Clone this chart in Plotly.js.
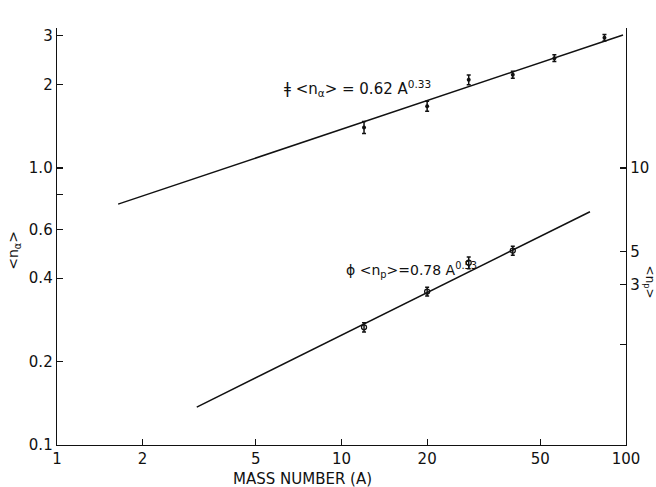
<!DOCTYPE html>
<html>
<head>
<meta charset="utf-8">
<script src="https://cdn.plot.ly/plotly-3.0.1.min.js"></script>
<style>html,body{margin:0;padding:0;background:#fff;}#chart{width:656px;height:487px;}</style>
</head>
<body>
<div id="chart"></div>
<script>
// Data
const massAlpha = [12, 20, 28, 40, 56, 84];
const nAlpha = [1.40, 1.67, 2.08, 2.17, 2.49, 2.95];
const errAlpha = [0.07, 0.07, 0.085, 0.065, 0.07, 0.08];

const massP = [12, 20, 28, 40];
const nP = [2.66, 3.58, 4.55, 5.03];
const errP = [0.10, 0.13, 0.22, 0.19];

// fitted lines (end points)
const fitAlphaA = [1.64, 97.6];
const fitAlphaN = [0.74, 3.02];
const fitPA = [3.10, 74.7];
const fitPN = [1.37, 6.95];

// tick labels
const xTickVals = [1, 2, 5, 10, 20, 50, 100];
const xTickText = ["1", "2", "5", "10", "20", "50", "100"];
const yTickVals = [0.1, 0.2, 0.4, 0.6, 0.8, 1.0, 2, 3];
const yTickText = ["0.1", "0.2", "0.4", "0.6", "", "1.0", "2", "3"];
const y2TickVals = [10, 5, 3.8, 2.3];
const y2TickText = ["10", "5", "3", ""];

const FONT = "DejaVu Sans, sans-serif";

const traces = [
  {x: fitAlphaA, y: fitAlphaN, mode: "lines", line: {color: "#111", width: 1.5}, yaxis: "y", hoverinfo: "skip"},
  {x: fitPA, y: fitPN, mode: "lines", line: {color: "#111", width: 1.5}, yaxis: "y2", hoverinfo: "skip"},
  {x: massAlpha, y: nAlpha, mode: "markers", yaxis: "y",
   marker: {color: "#111", size: 4, symbol: "circle"},
   error_y: {type: "data", array: errAlpha, visible: true, color: "#111", thickness: 1.5, width: 2}},
  {x: massP, y: nP, mode: "markers", yaxis: "y2",
   marker: {color: "#111", size: 5, symbol: "circle-open", line: {width: 1.3}},
   error_y: {type: "data", array: errP, visible: true, color: "#111", thickness: 1.5, width: 2}}
];

const axisCommon = {
  showgrid: false, zeroline: false, showline: true, linecolor: "#111", linewidth: 1.3,
  ticks: "inside", ticklen: 6, tickcolor: "#111", tickwidth: 1.2,
  tickfont: {family: FONT, size: 15, color: "#111"}
};

const layout = {
  width: 656, height: 487,
  margin: {l: 57, r: 30, t: 28, b: 42},
  paper_bgcolor: "#fff", plot_bgcolor: "#fff",
  showlegend: false,
  xaxis: Object.assign({}, axisCommon, {
    type: "log", range: [0, 2], tickmode: "array", tickvals: xTickVals, ticktext: xTickText,
    ticklabelstandoff: 0
  }),
  yaxis: Object.assign({}, axisCommon, {
    type: "log", range: [-1, 0.505], tickmode: "array", tickvals: yTickVals, ticktext: yTickText,
    ticklabelstandoff: 0
  }),
  yaxis2: Object.assign({}, axisCommon, {
    type: "log", range: [0, 1.505], overlaying: "y", side: "right", anchor: "x",
    tickmode: "array", tickvals: y2TickVals, ticktext: y2TickText, ticklabelstandoff: 0
  }),
  annotations: [
    {xref: "paper", yref: "paper", x: 0.396, y: 0.856, xanchor: "left", yanchor: "middle", showarrow: false,
     text: "ǂ &lt;n<sub>α</sub>&gt; = 0.62 A<sup>0.33</sup>", font: {family: FONT, size: 15, color: "#111"}},
    {xref: "paper", yref: "paper", x: 0.505, y: 0.42, xanchor: "left", yanchor: "middle", showarrow: false,
     text: "ɸ &lt;n<sub>p</sub>&gt;=0.78 A<sup>0.53</sup>", font: {family: FONT, size: 14, color: "#111"}},
    {xref: "paper", yref: "paper", x: 0.432, y: -0.082, xanchor: "center", yanchor: "middle", showarrow: false,
     text: "MASS NUMBER (A)", font: {family: FONT, size: 15, color: "#111"}},
    {xref: "paper", yref: "paper", x: -0.0756, y: 0.468, xanchor: "center", yanchor: "middle", showarrow: false,
     textangle: -90, text: "&lt;n<sub>α</sub>&gt;", font: {family: FONT, size: 14, color: "#111"}},
    {xref: "paper", yref: "paper", x: 1.041, y: 0.391, xanchor: "center", yanchor: "middle", showarrow: false,
     textangle: 90, text: "&lt;n<sub>p</sub>&gt;", font: {family: FONT, size: 12, color: "#111"}}
  ]
};

Plotly.newPlot("chart", traces, layout, {displayModeBar: false, staticPlot: true});
</script>
</body>
</html>
